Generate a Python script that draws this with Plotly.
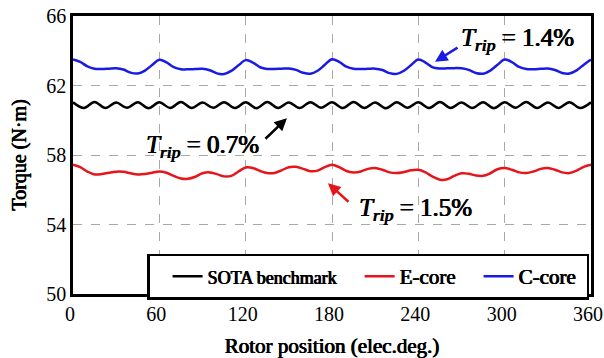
import plotly.graph_objects as go

# ---------------- data ----------------
angle_5 = list(range(0, 361, 5))                 # rotor position, deg (blue & red)
angle_bl = [i * 7.5 for i in range(49)]          # rotor position, deg (black)

c_core = [
    63.50, 63.36, 63.10, 62.96, 62.95, 62.97, 62.99, 62.92, 62.74, 62.69, 62.86, 63.18,
    63.48, 63.33, 63.06, 62.94, 62.93, 62.95, 62.96, 62.88, 62.70, 62.66, 62.84, 63.16,
    63.46, 63.32, 63.05, 62.95, 62.95, 62.97, 62.98, 62.90, 62.73, 62.68, 62.85, 63.19,
    63.51, 63.36, 63.08, 62.96, 62.95, 62.96, 62.97, 62.89, 62.71, 62.67, 62.85, 63.18,
    63.50, 63.32, 63.04, 62.98, 62.99, 63.00, 62.99, 62.90, 62.72, 62.68, 62.86, 63.19,
    63.50, 63.35, 63.07, 62.95, 62.94, 62.96, 62.98, 62.89, 62.72, 62.69, 62.87, 63.20,
    63.50,
]

e_core = [
    57.44, 57.30, 57.05, 56.88, 56.90, 56.98, 57.04, 57.03, 56.95, 56.88, 56.90, 56.98,
    57.05, 56.98, 56.80, 56.65, 56.63, 56.75, 56.95, 57.00, 56.90, 56.77, 56.80, 57.05,
    57.28, 57.25, 57.08, 56.96, 56.97, 57.12, 57.30, 57.32, 57.20, 57.07, 57.10, 57.30,
    57.44, 57.30, 57.08, 57.00, 57.05, 57.20, 57.25, 57.15, 57.00, 56.96, 57.02, 57.12,
    57.15, 57.00, 56.75, 56.58, 56.60, 56.80, 56.95, 56.92, 56.82, 56.80, 56.95, 57.18,
    57.25, 57.15, 57.00, 56.96, 57.05, 57.20, 57.25, 57.15, 57.00, 56.96, 57.10, 57.32,
    57.44,
]

sota = [
    61.03, 60.71, 61.05, 60.70, 61.02, 60.72, 61.04, 60.69, 61.03, 60.71, 61.05, 60.70,
    61.02, 60.72, 61.04, 60.70, 61.03, 60.69, 61.05, 60.71, 61.02, 60.70, 61.04, 60.72,
    61.03, 60.70, 61.05, 60.71, 61.02, 60.69, 61.04, 60.72, 61.03, 60.70, 61.05, 60.71,
    61.02, 60.70, 61.04, 60.69, 61.03, 60.72, 61.05, 60.70, 61.02, 60.71, 61.04, 60.70,
    61.03,
]

x_ticks = [0, 60, 120, 180, 240, 300, 360]
y_ticks = [50, 54, 58, 62, 66]

FONT = "Liberation Serif"
BOLD = "0.55px 0 0 black, -0.35px 0 0 black"   # thickens the serif strokes
NB = "\u00a0"

fig = go.Figure()
fig.add_trace(go.Scatter(
    x=angle_bl, y=sota, mode="lines", line=dict(color="black", width=2.5, shape="spline"),
    name='<span style="font-size:18px">SOTA benchmark</span>'))
fig.add_trace(go.Scatter(
    x=angle_5, y=e_core, mode="lines", line=dict(color="#e8141c", width=2.5, shape="spline"),
    name="E-core"))
fig.add_trace(go.Scatter(
    x=angle_5, y=c_core, mode="lines", line=dict(color="#1a1ae6", width=2.5, shape="spline"),
    name="C-core" + NB))


def trip(val):
    return "<i>T</i><sub><i>rip</i></sub> = " + val


annots = [
    dict(x=308.6, y=64.62, text=trip("1.4%"), showarrow=False),
    dict(x=90.3, y=58.47, text=trip("0.7%"), showarrow=False),
    dict(x=237.7, y=54.85, text=trip("1.5%"), showarrow=False),
    dict(x=251.6, y=63.37, ax=24, ay=-15, text="", showarrow=True,
         arrowcolor="#1a1ae6", arrowwidth=2.5, arrowhead=2, arrowsize=1),
    dict(x=148.7, y=60.12, ax=-23, ay=22, text="", showarrow=True,
         arrowcolor="black", arrowwidth=2.5, arrowhead=2, arrowsize=1),
    dict(x=177.2, y=56.38, ax=22, ay=20, text="", showarrow=True,
         arrowcolor="#e8141c", arrowwidth=2.5, arrowhead=2, arrowsize=1),
]
for a in annots:
    a.update(xref="x", yref="y",
             font=dict(family=FONT, size=25, color="black", shadow=BOLD))

fig.update_layout(
    width=604, height=358,
    margin=dict(l=73, r=13, t=16, b=64, autoexpand=False),
    paper_bgcolor="white", plot_bgcolor="white",
    font=dict(family=FONT, color="black"),
    annotations=annots,
    showlegend=True,
    legend=dict(
        orientation="h", x=0.143, xanchor="left", y=-0.02, yanchor="bottom",
        bgcolor="white", bordercolor="black", borderwidth=2.5,
        font=dict(family=FONT, size=21, color="black", shadow=BOLD),
        itemwidth=30, indentation=18,
    ),
    xaxis=dict(
        range=[0, 360], tickvals=x_ticks, ticktext=[str(v) for v in x_ticks],
        showgrid=True, gridcolor="#a8a8a8", griddash="dash", gridwidth=1,
        showline=True, linecolor="black", linewidth=2.5, mirror=True,
        ticks="", zeroline=False, automargin=False, ticklabeloverflow="allow",
        ticklabelshift=-3,
        tickfont=dict(family=FONT, size=20, color="black"),
        title=dict(text="Rotor position (elec.deg.)",
                   font=dict(family=FONT, size=21, color="black", shadow=BOLD)),
    ),
    yaxis=dict(
        range=[50, 66], tickvals=y_ticks, ticktext=[str(v) for v in y_ticks],
        showgrid=True, gridcolor="#a8a8a8", griddash="dash", gridwidth=1,
        showline=True, linecolor="black", linewidth=2.5, mirror=True,
        ticks="", zeroline=False, automargin=False, ticklabeloverflow="allow",
        tickfont=dict(family=FONT, size=20, color="black"),
        title=dict(text="Torque (N·m)",
                   font=dict(family=FONT, size=20, color="black", shadow=BOLD)),
    ),
)

fig.write_html(
    "out.html",
    config={"displayModeBar": False},
    post_script="document.body.style.margin='0';document.body.style.overflow='hidden';",
)
